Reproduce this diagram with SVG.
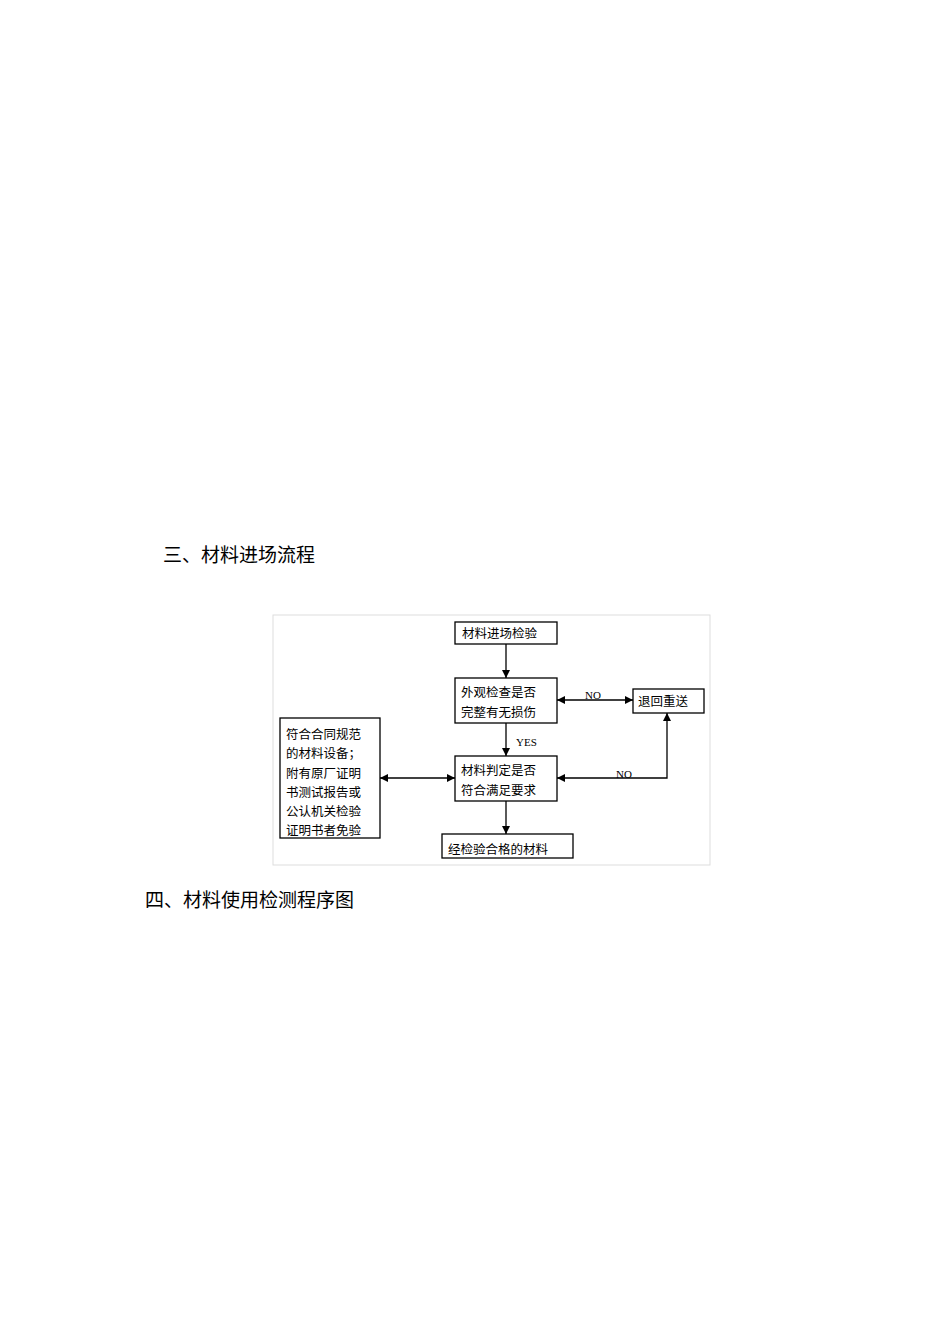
<svg xmlns="http://www.w3.org/2000/svg" width="950" height="1344" viewBox="0 0 950 1344">
<style>
.h{font-family:"Noto Sans CJK SC",sans-serif;font-size:19px;fill:#000}
.t{font-family:"Noto Sans CJK SC",serif;font-size:12.5px;fill:#000}
.l{font-family:"Liberation Serif",serif;font-size:11px;fill:#000}
.b{fill:#fff;stroke:#000;stroke-width:1.3}
.c{stroke:#000;stroke-width:1.3;fill:none}
</style>
<defs><marker id="a" viewBox="0 0 10 10" refX="10" refY="5" markerWidth="8" markerHeight="8" orient="auto-start-reverse" markerUnits="userSpaceOnUse"><path d="M0,0L10,5L0,10z"/></marker></defs>
<rect width="950" height="1344" fill="#fff"/>
<text class="h" x="163" y="562">三、材料进场流程</text>
<text class="h" x="145" y="907">四、材料使用检测程序图</text>
<rect x="273" y="615" width="437" height="250" fill="none" stroke="#ddd"/>
<g id="connectors">
<line class="c" x1="506" y1="644" x2="506" y2="678" marker-end="url(#a)"/>
<line class="c" x1="506" y1="723" x2="506" y2="756" marker-end="url(#a)"/>
<line class="c" x1="506" y1="801" x2="506" y2="834" marker-end="url(#a)"/>
<line class="c" x1="557" y1="700" x2="633" y2="700" marker-start="url(#a)" marker-end="url(#a)"/>
<polyline class="c" points="557,778 667,778 667,713" marker-start="url(#a)" marker-end="url(#a)"/>
<line class="c" x1="380" y1="778" x2="455" y2="778" marker-start="url(#a)" marker-end="url(#a)"/>
<text class="l" x="585" y="699">NO</text>
<text class="l" x="616" y="778">NO</text>
<text class="l" x="516" y="746">YES</text>
</g>
<g id="n1"><rect class="b" x="455" y="622" width="102" height="22"/><text class="t" x="462" y="638">材料进场检验</text></g>
<g id="n2"><rect class="b" x="455" y="678" width="102" height="45"/><text class="t" x="461" y="697">外观检查是否</text><text class="t" x="461" y="717">完整有无损伤</text></g>
<g id="n3"><rect class="b" x="633" y="689" width="71" height="24"/><text class="t" x="638" y="706">退回重送</text></g>
<g id="n4"><rect class="b" x="455" y="756" width="102" height="45"/><text class="t" x="461" y="775">材料判定是否</text><text class="t" x="461" y="795">符合满足要求</text></g>
<g id="n5"><rect class="b" x="280" y="718" width="100" height="120"/>
<text class="t" x="286" y="739">符合合同规范</text><text class="t" x="286" y="758">的材料设备；</text><text class="t" x="286" y="778">附有原厂证明</text><text class="t" x="286" y="797">书测试报告或</text><text class="t" x="286" y="816">公认机关检验</text><text class="t" x="286" y="835">证明书者免验</text></g>
<g id="n6"><rect class="b" x="442" y="834" width="131" height="24"/><text class="t" x="448" y="854">经检验合格的材料</text></g>
</svg>
